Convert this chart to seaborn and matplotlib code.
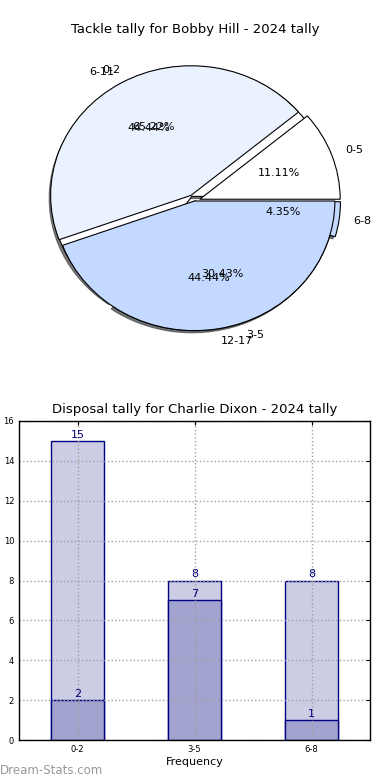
import numpy as np
import pandas as pd
import matplotlib
matplotlib.use("Agg")
import matplotlib.pyplot as plt
import seaborn as sns

# pie data (two overlaid pies)
tackle_labels = ["0-2", "3-5", "6-8"]
tackle_counts = [15, 7, 1]
range_labels = ["0-5", "6-11", "12-17"]
range_counts = [1, 4, 4]

# bar data
disposal_bins = ["0-2", "3-5", "6-8"]
disposal_total = [15, 8, 8]
disposal_part = [2, 7, 1]

pie_colors = ["#ffffff", "#eaf2ff", "#c4d9ff"]

sns.set_style("white")
plt.rcParams["font.family"] = ["DejaVu Sans"]
plt.rcParams["text.color"] = "black"
plt.rcParams["axes.labelcolor"] = "black"
plt.rcParams["xtick.color"] = "black"
plt.rcParams["ytick.color"] = "black"

fig = plt.figure(figsize=(3.9, 7.8), dpi=100)

# ---- pie ----
ax1 = fig.add_axes([12 / 390, 410.5 / 780, 365 / 390, 337 / 780])
wedge_style = dict(edgecolor="black", linewidth=0.8)
ax1.pie(tackle_counts, labels=tackle_labels, colors=pie_colors,
        explode=(0.04, 0, 0.04), autopct="%1.2f%%",
        shadow=dict(ox=-0.012, oy=-0.012, shade=0.7, alpha=0.75),
        wedgeprops=wedge_style, textprops=dict(fontsize=8))
ax1.pie(range_counts, labels=range_labels, colors=pie_colors,
        explode=(0.04, 0.05, 0), autopct="%1.2f%%",
        wedgeprops=wedge_style, textprops=dict(fontsize=8))
ax1.set_aspect("auto")
ax1.set_xlim(-1.3, 1.3)
ax1.set_ylim(-1.3, 1.3)
ax1.axis("off")
fig.text(0.5, 1 - 30 / 780, "Tackle tally for Bobby Hill - 2024 tally",
         ha="center", va="center", fontsize=9.5)

# ---- bars ----
ax2 = fig.add_axes([19 / 390, 40 / 780, 351 / 390, 319 / 780])
df_total = pd.DataFrame({"bin": disposal_bins, "count": disposal_total})
df_part = pd.DataFrame({"bin": disposal_bins, "count": disposal_part})
sns.barplot(data=df_total, x="bin", y="count", color="#ccccE4", saturation=1,
            edgecolor="navy", linewidth=1, width=0.45, ax=ax2)
sns.barplot(data=df_part, x="bin", y="count", color="#a3a3d0", saturation=1,
            edgecolor="navy", linewidth=1, width=0.45, ax=ax2)
for cont in ax2.containers:
    ax2.bar_label(cont, color="navy", fontsize=8, padding=1)

ax2.set_xlim(-0.5, 2.5)
ax2.set_ylim(0, 16)
ax2.set_yticks(np.arange(0, 17, 2))
ax2.set_axisbelow(False)
ax2.grid(True, linestyle=":", color="#a0a0a0", linewidth=1)
ax2.tick_params(direction="in", labelsize=6, top=True, right=True, length=3)
for sp in ax2.spines.values():
    sp.set_color("black")
    sp.set_linewidth(1)
    sp.set_zorder(5)
ax2.set_xlabel("Frequency", fontsize=8, labelpad=2)
ax2.set_ylabel("")
ax2.set_title("Disposal tally for Charlie Dixon - 2024 tally", fontsize=9.5, pad=6)

fig.text(0.0, 1 - 770 / 780, "Dream-Stats.com", color="#999999",
         fontsize=8.5, ha="left", va="center")

fig.savefig("out.png", dpi=100)
